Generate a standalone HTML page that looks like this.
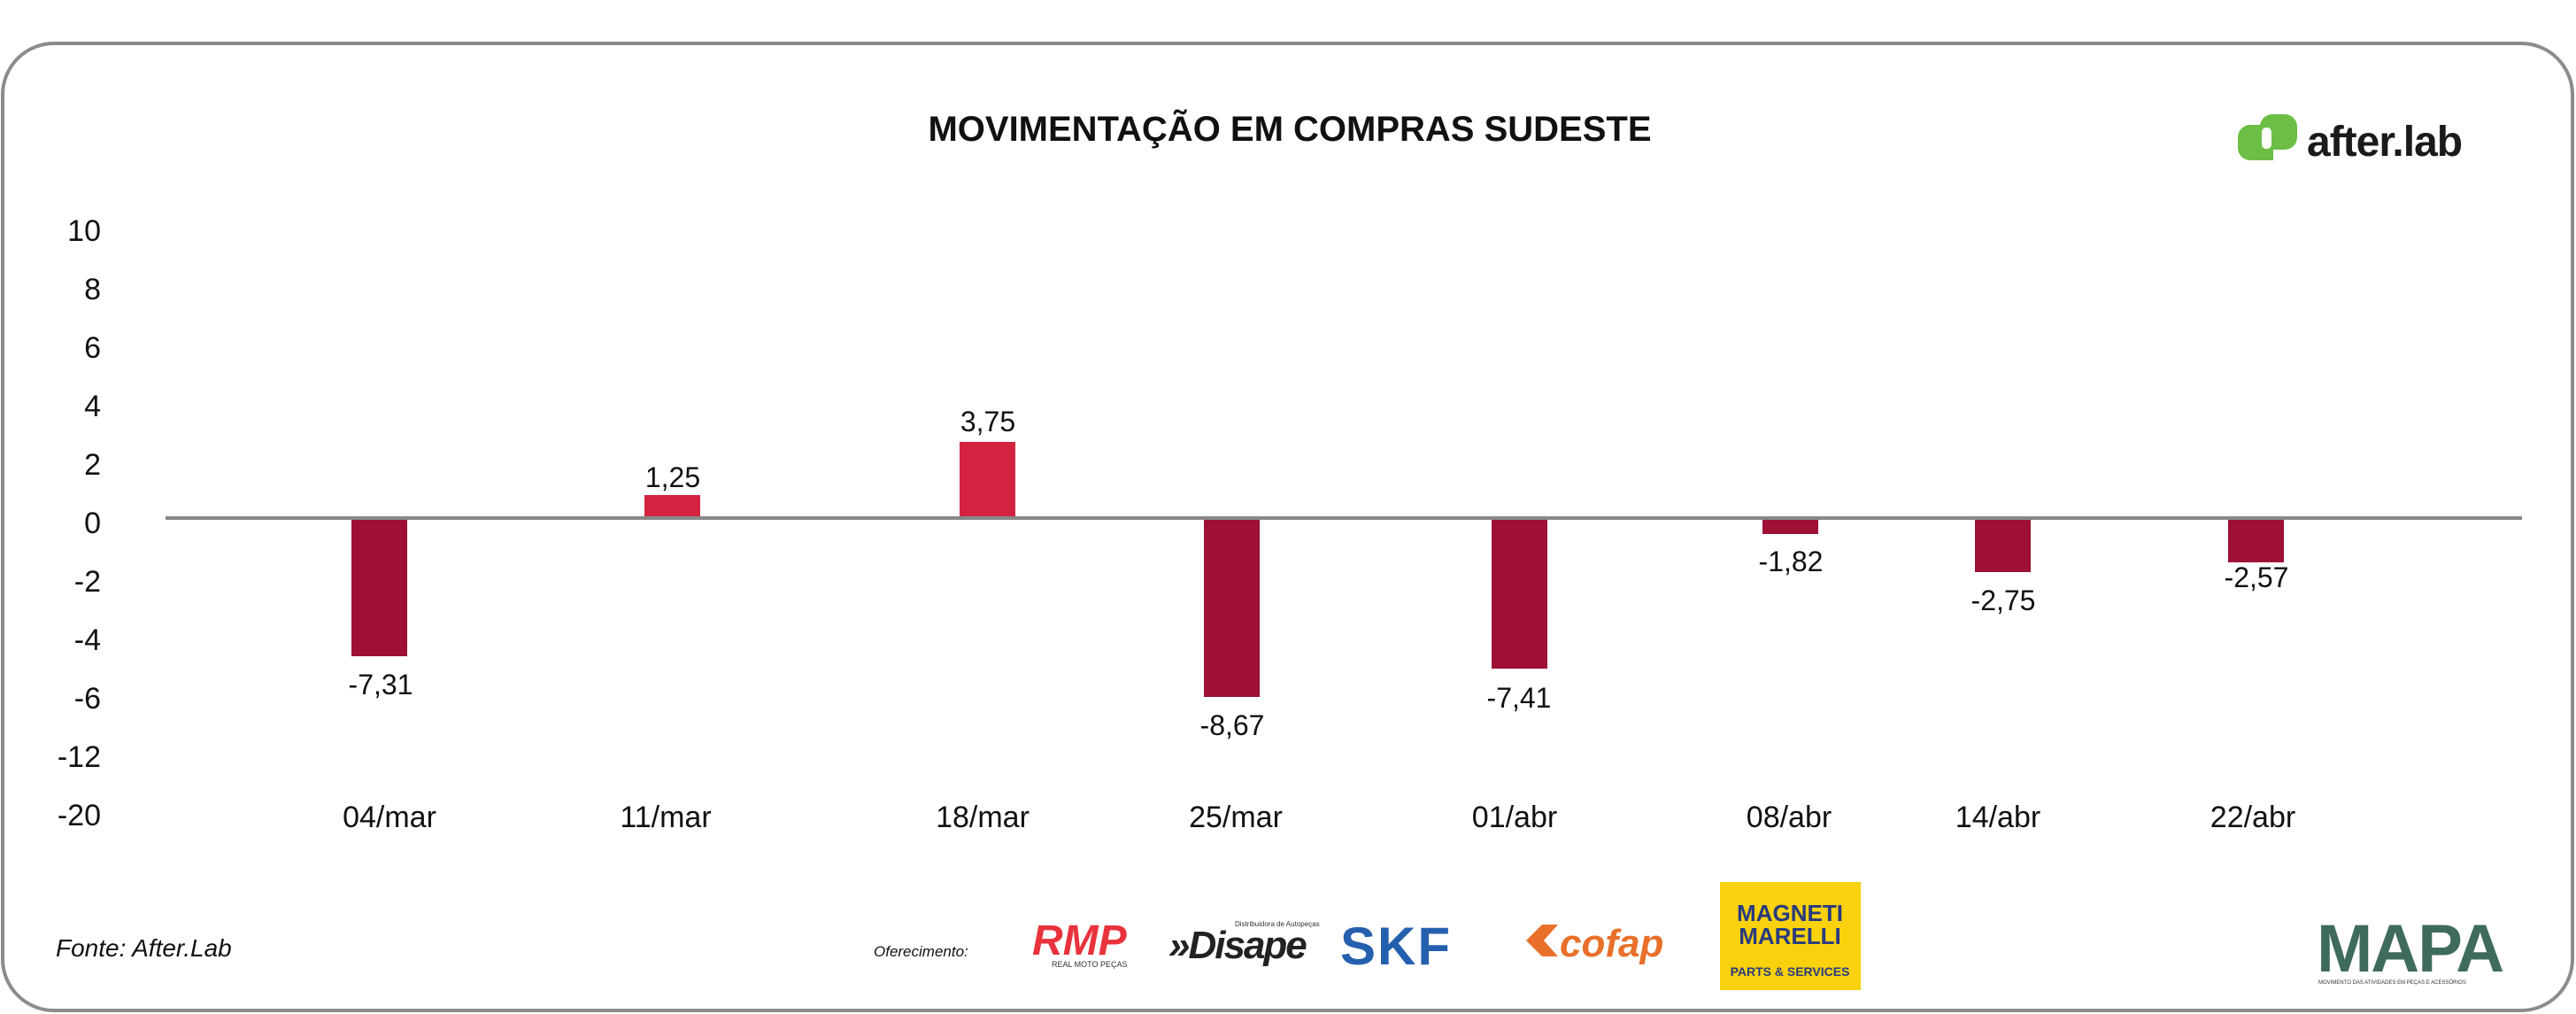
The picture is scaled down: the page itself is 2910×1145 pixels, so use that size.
<!DOCTYPE html>
<html><head><meta charset="utf-8"><style>
html,body{margin:0;padding:0;background:#fff;}
svg{display:block;}
text{font-family:"Liberation Sans",sans-serif;}
</style></head><body>
<svg width="2910" height="1145" viewBox="0 0 2910 1145" xmlns="http://www.w3.org/2000/svg">
<rect x="3" y="49" width="2903" height="1092" rx="58" ry="58" fill="#fff" stroke="#8c8c8c" stroke-width="4"/>
<text x="1457" y="159" font-size="40" font-weight="bold" text-anchor="middle" fill="#111">MOVIMENTAÇÃO EM COMPRAS SUDESTE</text>
<!-- after.lab logo -->
<rect x="2528" y="141" width="40" height="40" rx="14" fill="#6cbe45"/>
<rect x="2553" y="129" width="42" height="40" rx="14" fill="#6cbe45"/>
<rect x="2553" y="141" width="15" height="40" fill="#6cbe45"/>
<rect x="2555" y="144" width="11" height="24" rx="5" fill="#fff"/>
<text x="2606" y="176" font-size="48" font-weight="bold" fill="#1a1a1a" letter-spacing="-1">after.lab</text>
<!-- y axis labels -->
<g font-size="34" fill="#111" text-anchor="end">
<text x="114" y="272">10</text>
<text x="114" y="338">8</text>
<text x="114" y="404">6</text>
<text x="114" y="470">4</text>
<text x="114" y="536">2</text>
<text x="114" y="602">0</text>
<text x="114" y="668">-2</text>
<text x="114" y="734">-4</text>
<text x="114" y="800">-6</text>
<text x="114" y="866">-12</text>
<text x="114" y="932">-20</text>
</g>
<!-- bars -->
<g>
<rect x="397" y="585" width="63" height="156" fill="#9e1036"/>
<rect x="728" y="559" width="63" height="26" fill="#d42340"/>
<rect x="1084" y="499" width="63" height="86" fill="#d42340"/>
<rect x="1360" y="585" width="63" height="202" fill="#9e1036"/>
<rect x="1685" y="585" width="63" height="170" fill="#9e1036"/>
<rect x="1991" y="585" width="63" height="18" fill="#9e1036"/>
<rect x="2231" y="585" width="63" height="61" fill="#9e1036"/>
<rect x="2517" y="585" width="63" height="50" fill="#9e1036"/>
</g>
<line x1="187" y1="585" x2="2849" y2="585" stroke="#888" stroke-width="4"/>
<g font-size="32" fill="#111" text-anchor="middle">
<text x="430" y="784">-7,31</text>
<text x="760" y="550">1,25</text>
<text x="1116" y="487">3,75</text>
<text x="1392" y="830">-8,67</text>
<text x="1716" y="799">-7,41</text>
<text x="2023" y="645">-1,82</text>
<text x="2263" y="689">-2,75</text>
<text x="2549" y="663">-2,57</text>
</g>
<g font-size="34" fill="#111" text-anchor="middle">
<text x="440" y="934">04/mar</text>
<text x="752" y="934">11/mar</text>
<text x="1110" y="934">18/mar</text>
<text x="1396" y="934">25/mar</text>
<text x="1711" y="934">01/abr</text>
<text x="2021" y="934">08/abr</text>
<text x="2257" y="934">14/abr</text>
<text x="2545" y="934">22/abr</text>
</g>
<text x="63" y="1080" font-size="28" font-style="italic" fill="#111">Fonte: After.Lab</text>
<text x="987" y="1080" font-size="17" font-style="italic" fill="#111">Oferecimento:</text>
<!-- sponsor logos -->
<text x="1166" y="1078" font-size="48" font-weight="bold" font-style="italic" fill="#e8333c">RMP</text>
<text x="1188" y="1092" font-size="9" fill="#333">REAL MOTO PEÇAS</text>
<text x="1320" y="1082" font-size="44" font-weight="bold" font-style="italic" fill="#222" letter-spacing="-2">»Disape</text>
<text x="1395" y="1046" font-size="8" fill="#333">Distribuidora de Autopeças</text>
<text x="1514" y="1089" font-size="60" font-weight="bold" fill="#2560ae" letter-spacing="2">SKF</text>
<polygon points="1724,1062 1742,1044 1760,1044 1744,1062 1760,1080 1742,1080" fill="#e8702a"/>
<text x="1762" y="1080" font-size="44" font-weight="bold" font-style="italic" fill="#e8702a">cofap</text>
<rect x="1943" y="996" width="159" height="122" fill="#f9d10c"/>
<text x="2022" y="1040" font-size="26" font-weight="bold" fill="#283a80" text-anchor="middle">MAGNETI</text>
<text x="2022" y="1066" font-size="26" font-weight="bold" fill="#283a80" text-anchor="middle">MARELLI</text>
<text x="2022" y="1102" font-size="14" font-weight="bold" fill="#283a80" text-anchor="middle">PARTS &amp; SERVICES</text>
<text x="2617" y="1097" font-size="76" font-weight="bold" fill="#3f6b5a" letter-spacing="-2">MAPA</text>
<text x="2619" y="1111" font-size="6" fill="#333">MOVIMENTO DAS ATIVIDADES EM PEÇAS E ACESSÓRIOS</text>
</svg>
</body></html>
